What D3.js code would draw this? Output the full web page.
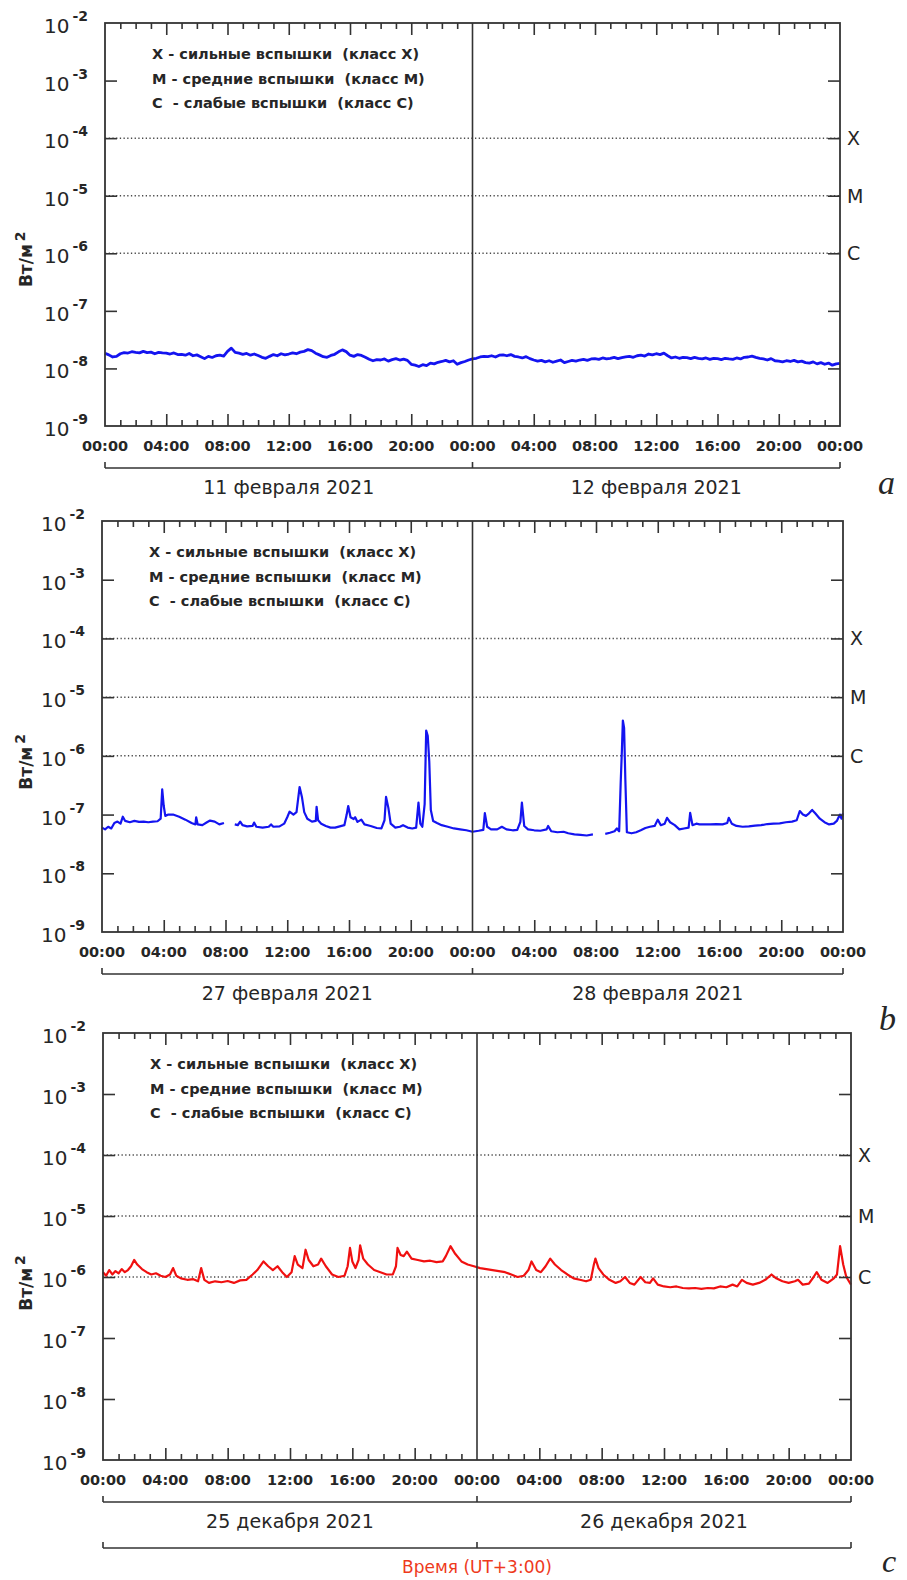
<!DOCTYPE html>
<html>
<head>
<meta charset="utf-8">
<script src="https://cdn.jsdelivr.net/npm/d3@7"></script>
<style>
  body { margin: 0; background: #fff; }
  svg text { font-family: "DejaVu Sans", Verdana, sans-serif; fill: #262626; }
</style>
</head>
<body>
<svg id="chart" width="907" height="1580"></svg>
<script>
// ---- shared axis content ----
const decades = [1e-9, 1e-8, 1e-7, 1e-6, 1e-5, 1e-4, 1e-3, 1e-2];
const classLevels = [1e-4, 1e-5, 1e-6];
const classNames = ["X", "M", "C"];
const hourLabels = [0, 4, 8, 12, 16, 20, 24, 28, 32, 36, 40, 44, 48];
const legendLines = [
  "X - сильные вспышки  (класс X)",
  "M - средние вспышки  (класс M)",
  "C  - слабые вспышки  (класс C)"
];

// ---- panel a: 11–12 Feb 2021, sampled every 15 min, units of 1e-8 W/m² ----
const stepA = 0.25;
const unitA = 1e-8;
const fluxA = [
  1.84, 1.72, 1.58, 1.62,  1.80, 1.88, 1.85, 1.95,  1.90, 1.86, 1.98, 1.88,
  1.92, 1.80, 1.90, 1.86,  1.84, 1.78, 1.86, 1.74,  1.76, 1.70, 1.82, 1.66,
  1.72, 1.60, 1.48, 1.62,  1.55, 1.66, 1.70, 1.64,  1.98, 2.25, 1.90, 1.84,
  1.76, 1.82, 1.70, 1.78,  1.68, 1.56, 1.50, 1.62,  1.74, 1.66, 1.80, 1.72,
  1.78, 1.86, 1.80, 1.92,  1.98, 2.12, 2.04, 1.84,  1.72, 1.60, 1.56, 1.68,
  1.76, 1.94, 2.10, 1.96,  1.70, 1.62, 1.74, 1.68,  1.56, 1.44, 1.36, 1.42,
  1.40, 1.46, 1.34, 1.42,  1.48, 1.40, 1.45, 1.38,  1.18, 1.14, 1.08, 1.16,
  1.12, 1.24, 1.20, 1.28,  1.32, 1.38, 1.30, 1.36,  1.18, 1.26, 1.32, 1.40,
  1.46, 1.50, 1.58, 1.62,  1.60, 1.66, 1.58, 1.70,  1.72, 1.66, 1.74, 1.62,
  1.58, 1.52, 1.60, 1.48,  1.40, 1.34, 1.38, 1.30,  1.36, 1.28, 1.34, 1.40,
  1.26, 1.32, 1.38, 1.34,  1.40, 1.44, 1.38, 1.46,  1.48, 1.44, 1.52, 1.46,
  1.50, 1.56, 1.48, 1.54,  1.58, 1.62, 1.56, 1.66,  1.70, 1.64, 1.78, 1.72,
  1.80, 1.74, 1.84, 1.66,  1.52, 1.58, 1.50, 1.56,  1.54, 1.48, 1.56, 1.50,
  1.46, 1.52, 1.44, 1.50,  1.48, 1.42, 1.50, 1.46,  1.44, 1.52, 1.46, 1.56,
  1.58, 1.64, 1.56, 1.50,  1.46, 1.40, 1.48, 1.36,  1.34, 1.30, 1.36, 1.32,
  1.38, 1.30, 1.34, 1.26,  1.24, 1.30, 1.20, 1.26,  1.18, 1.24, 1.14, 1.20,
  1.22
];

// ---- panel b: 27–28 Feb 2021 (hours from start, W/m², null = data gap) ----
const hoursB = [
  0, 0.2, 0.4, 0.6, 0.8, 1.0, 1.2, 1.35, 1.5, 1.8, 2.1, 2.4, 2.7, 3.0, 3.3, 3.6, 3.8, 3.9, 4.0, 4.1,
  4.3, 4.6, 5.0, 5.4, 5.8, 6.05, 6.1, 6.2, 6.5, 6.8, 7.0, 7.3, 7.6, 7.9, 8.2,
  8.6, 8.8, 8.95, 9.1, 9.4, 9.75, 9.85, 10.0, 10.4, 10.8, 10.95, 11.1, 11.5, 11.8, 12.0,
  12.15, 12.4, 12.6, 12.8, 12.95, 13.1, 13.3, 13.6, 13.85, 13.9, 14.0, 14.2, 14.5, 14.8, 15.1,
  15.4, 15.7, 15.85, 15.95, 16.1, 16.3, 16.4, 16.55, 16.8, 17.0, 17.4, 17.8, 18.1, 18.3, 18.4,
  18.55, 18.7, 19.0, 19.3, 19.5, 19.8, 20.1, 20.35, 20.5, 20.62, 20.75, 20.9, 21.0, 21.1, 21.2,
  21.3, 21.45, 21.7, 22.0, 22.4, 22.8, 23.2, 23.6, 24.0, 24.4, 24.7, 24.8, 24.95, 25.2, 25.6,
  25.9, 26.2, 26.6, 26.9, 27.1, 27.2, 27.35, 27.6, 28.0, 28.4, 28.8, 28.9, 29.1, 29.5, 29.9,
  30.2, 30.6, 31.0, 31.4, 31.8, 32.2,
  32.6, 32.9, 33.2, 33.35, 33.5, 33.6, 33.68, 33.74, 33.82, 33.9, 34.0, 34.3, 34.6, 34.9, 35.2,
  35.5, 35.8, 36.0, 36.2, 36.45, 36.6, 36.8, 37.1, 37.4, 37.7, 38.0, 38.1, 38.25, 38.5, 38.7,
  39.0, 39.4, 39.8, 40.2, 40.5, 40.6, 40.8, 41.1, 41.5, 41.9, 42.3, 42.7, 43.1, 43.5, 43.9,
  44.3, 44.7, 45.0, 45.2, 45.4, 45.6, 45.8, 46.0, 46.2, 46.5, 46.8, 47.1, 47.4, 47.6, 47.8,
  47.9, 48.0
];
const fluxB = [
  6.0e-8, 5.6e-8, 6.2e-8, 5.8e-8, 7.2e-8, 7.6e-8, 7.0e-8, 9.2e-8, 7.8e-8, 7.4e-8, 7.8e-8, 7.5e-8, 7.6e-8, 7.4e-8, 7.6e-8, 7.7e-8, 8.5e-8, 2.7e-7, 1.4e-7, 9.5e-8,
  1.0e-7, 1.0e-7, 9.2e-8, 8.2e-8, 7.2e-8, 6.8e-8, 9.0e-8, 6.8e-8, 6.6e-8, 7.4e-8, 7.9e-8, 7.6e-8, 6.8e-8, 7.2e-8, null,
  6.8e-8, 6.6e-8, 7.6e-8, 6.6e-8, 6.3e-8, 6.4e-8, 7.3e-8, 6.2e-8, 6.0e-8, 6.2e-8, 6.8e-8, 6.2e-8, 6.3e-8, 7.0e-8, 9.0e-8,
  1.12e-7, 1.0e-7, 1.1e-7, 2.95e-7, 2.0e-7, 1.1e-7, 8.5e-8, 7.6e-8, 7.8e-8, 1.36e-7, 8.0e-8, 7.0e-8, 6.4e-8, 6.0e-8, 6.0e-8,
  6.3e-8, 6.6e-8, 1.0e-7, 1.4e-7, 9.0e-8, 8.4e-8, 9.0e-8, 7.5e-8, 8.2e-8, 6.8e-8, 6.4e-8, 5.9e-8, 5.8e-8, 8.0e-8, 2.0e-7,
  1.3e-7, 7.0e-8, 6.0e-8, 6.2e-8, 6.6e-8, 6.0e-8, 5.8e-8, 6.0e-8, 1.6e-7, 7.0e-8, 6.2e-8, 1.5e-7, 2.7e-6, 2.2e-6, 8.0e-7,
  1.2e-7, 7.8e-8, 7.2e-8, 6.6e-8, 6.2e-8, 5.8e-8, 5.6e-8, 5.4e-8, 5.1e-8, 5.3e-8, 5.5e-8, 1.06e-7, 6.2e-8, 5.6e-8, 5.6e-8,
  6.2e-8, 5.6e-8, 5.4e-8, 5.5e-8, 7.5e-8, 1.6e-7, 6.4e-8, 5.6e-8, 5.4e-8, 5.3e-8, 5.6e-8, 6.4e-8, 5.2e-8, 5.0e-8, 5.1e-8,
  4.8e-8, 4.6e-8, 4.5e-8, 4.4e-8, 4.6e-8, null,
  4.7e-8, 4.9e-8, 5.2e-8, 5.8e-8, 5.2e-8, 3.5e-7, 1.3e-6, 4.0e-6, 3.0e-6, 4.0e-7, 5.0e-8, 4.8e-8, 5.0e-8, 5.4e-8, 5.9e-8,
  6.2e-8, 6.4e-8, 8.2e-8, 6.6e-8, 7.0e-8, 8.8e-8, 7.4e-8, 6.6e-8, 5.6e-8, 5.8e-8, 6.0e-8, 1.07e-7, 6.6e-8, 7.0e-8, 6.8e-8,
  6.8e-8, 6.8e-8, 6.9e-8, 6.8e-8, 7.2e-8, 8.8e-8, 7.0e-8, 6.4e-8, 6.2e-8, 6.3e-8, 6.5e-8, 6.6e-8, 6.9e-8, 7.0e-8, 7.1e-8,
  7.4e-8, 7.6e-8, 8.0e-8, 1.15e-7, 1.0e-7, 9.5e-8, 1.05e-7, 1.2e-7, 1.05e-7, 8.5e-8, 7.4e-8, 6.8e-8, 7.0e-8, 7.8e-8, 1.0e-7,
  8.5e-8, 1.05e-7
];

// ---- panel c: 25–26 Dec 2021 (hours from start, W/m²) ----
const hoursC = [
  0.0, 0.2, 0.4, 0.6, 0.8, 1.0, 1.2, 1.4, 1.6, 1.8, 2.0, 2.2, 2.5, 2.8, 3.1, 3.4, 3.7, 4.0, 4.3, 4.5,
  4.7, 5.0, 5.4, 5.8, 6.1, 6.3, 6.5, 6.8, 7.2, 7.6, 8.0, 8.4, 8.8, 9.2, 9.6, 9.9, 10.3, 10.6, 10.9, 11.2,
  11.5, 11.8, 12.1, 12.3, 12.5, 12.8, 13.0, 13.2, 13.5, 13.8, 14.0, 14.3, 14.7, 15.1, 15.5, 15.7, 15.85, 16.0, 16.2, 16.4,
  16.5, 16.7, 17.0, 17.4, 17.8, 18.2, 18.6, 18.8, 18.9, 19.1, 19.3, 19.5, 19.8, 20.2, 20.6, 21.0, 21.4, 21.8, 22.0, 22.3,
  22.6, 23.0, 23.4, 23.8, 24.2, 24.6, 25.0, 25.4, 25.8, 26.2, 26.6, 27.0, 27.3, 27.5, 27.8, 28.1, 28.4, 28.7, 29.0, 29.4,
  29.8, 30.2, 30.6, 31.0, 31.3, 31.5, 31.6, 31.8, 32.1, 32.5, 32.9, 33.2, 33.5, 33.8, 34.1, 34.5, 34.8, 35.1, 35.3, 35.6,
  36.0, 36.4, 36.8, 37.2, 37.6, 38.0, 38.4, 38.8, 39.2, 39.6, 40.0, 40.4, 40.7, 41.0, 41.3, 41.7, 42.1, 42.5, 42.9, 43.2,
  43.6, 44.0, 44.4, 44.6, 44.9, 45.3, 45.6, 45.8, 46.1, 46.5, 46.9, 47.1, 47.3, 47.5, 47.7, 48.0
];
const fluxC = [
  1.2e-6, 1.05e-6, 1.3e-6, 1.1e-6, 1.25e-6, 1.15e-6, 1.35e-6, 1.2e-6, 1.3e-6, 1.5e-6, 1.9e-6, 1.6e-6, 1.35e-6, 1.2e-6, 1.1e-6, 1.15e-6, 1.05e-6, 1.0e-6, 1.1e-6, 1.4e-6,
  1.05e-6, 9.5e-7, 9.0e-7, 9.2e-7, 8.5e-7, 1.4e-6, 9.0e-7, 8.0e-7, 8.5e-7, 8.2e-7, 8.6e-7, 8.0e-7, 8.8e-7, 9.0e-7, 1.1e-6, 1.3e-6, 1.8e-6, 1.5e-6, 1.3e-6, 1.5e-6,
  1.2e-6, 1.0e-6, 1.2e-6, 2.2e-6, 1.6e-6, 1.4e-6, 2.8e-6, 1.9e-6, 1.5e-6, 1.6e-6, 2.0e-6, 1.5e-6, 1.1e-6, 1.0e-6, 1.05e-6, 1.5e-6, 3.0e-6, 1.8e-6, 1.4e-6, 1.9e-6,
  3.3e-6, 2.0e-6, 1.6e-6, 1.3e-6, 1.2e-6, 1.1e-6, 1.1e-6, 1.5e-6, 3.0e-6, 2.3e-6, 2.2e-6, 2.6e-6, 2.0e-6, 1.9e-6, 1.8e-6, 1.85e-6, 1.75e-6, 1.8e-6, 2.2e-6, 3.2e-6,
  2.4e-6, 1.8e-6, 1.6e-6, 1.5e-6, 1.4e-6, 1.35e-6, 1.3e-6, 1.25e-6, 1.2e-6, 1.1e-6, 1.0e-6, 1.05e-6, 1.3e-6, 1.8e-6, 1.3e-6, 1.2e-6, 1.5e-6, 2.0e-6, 1.6e-6, 1.3e-6,
  1.1e-6, 9.5e-7, 9.0e-7, 8.5e-7, 9.0e-7, 1.6e-6, 2.0e-6, 1.4e-6, 1.1e-6, 9.0e-7, 8.0e-7, 8.5e-7, 1.0e-6, 8.0e-7, 7.5e-7, 1.0e-6, 8.2e-7, 8.0e-7, 9.5e-7, 7.5e-7,
  7.0e-7, 6.8e-7, 7.0e-7, 6.6e-7, 6.5e-7, 6.6e-7, 6.4e-7, 6.6e-7, 6.5e-7, 7.0e-7, 6.8e-7, 7.5e-7, 7.0e-7, 9.0e-7, 8.0e-7, 7.5e-7, 8.0e-7, 9.0e-7, 1.1e-6, 9.5e-7,
  8.5e-7, 8.0e-7, 8.5e-7, 9.0e-7, 7.5e-7, 7.8e-7, 1.0e-6, 1.2e-6, 9.0e-7, 8.0e-7, 9.5e-7, 1.1e-6, 3.2e-6, 1.6e-6, 1.0e-6, 7.5e-7
];

const datesA = ["11 февраля 2021", "12 февраля 2021"];
const datesB = ["27 февраля 2021", "28 февраля 2021"];
const datesC = ["25 декабря 2021", "26 декабря 2021"];
const timeTitle = "Время (UT+3:00)";

// ---- drawing ----
const svg = d3.select("#chart");
const axisColor = "#333";

function seriesFrom(hours, flux) {
  return hours.map((t, i) => ({ t, v: flux[i] }));
}

function drawPanel(p) {
  const g = svg.append("g");
  const x = d3.scaleLinear().domain([0, 48]).range([p.left, p.right]);
  const y = d3.scaleLog().domain([1e-9, 1e-2]).range([p.bottom, p.top]);

  // class threshold grid (dotted)
  g.selectAll("line.grid").data(classLevels).join("line")
    .attr("x1", p.left).attr("x2", p.right)
    .attr("y1", d => y(d)).attr("y2", d => y(d))
    .attr("stroke", "#4a4a4a").attr("stroke-width", 1.5)
    .attr("stroke-dasharray", "1.3,2.4");

  // flux curve
  const line = d3.line().defined(d => d.v != null)
    .x(d => x(d.t)).y(d => y(d.v));
  g.append("path").datum(p.series)
    .attr("d", line).attr("fill", "none")
    .attr("stroke", p.color).attr("stroke-width", p.lineWidth)
    .attr("stroke-linejoin", "round");

  // hour ticks, top and bottom, pointing inward
  const minorHours = d3.range(1, 48).filter(h => h % 4 !== 0);
  const majorHours = d3.range(4, 48, 4).filter(h => h !== 24);
  const tickSets = [[minorHours, 6], [majorHours, 12]];
  tickSets.forEach(([vals, len]) => {
    g.append("g").attr("transform", `translate(0,${p.bottom})`)
      .call(d3.axisBottom(x).tickValues(vals).tickSize(-len).tickFormat(""))
      .call(a => a.select(".domain").remove());
    g.append("g").attr("transform", `translate(0,${p.top})`)
      .call(d3.axisTop(x).tickValues(vals).tickSize(-len).tickFormat(""))
      .call(a => a.select(".domain").remove());
  });

  // decade ticks left and right, pointing inward
  const inner = decades.slice(1, -1);
  g.append("g").attr("transform", `translate(${p.left},0)`)
    .call(d3.axisLeft(y).tickValues(inner).tickSize(-12).tickFormat(""))
    .call(a => a.select(".domain").remove());
  g.append("g").attr("transform", `translate(${p.right},0)`)
    .call(d3.axisRight(y).tickValues(inner).tickSize(-12).tickFormat(""))
    .call(a => a.select(".domain").remove());
  g.selectAll(".tick line").attr("stroke", axisColor).attr("stroke-width", 1.6);

  // frame and day divider
  g.append("rect")
    .attr("x", p.left).attr("y", p.top)
    .attr("width", p.right - p.left).attr("height", p.bottom - p.top)
    .attr("fill", "none").attr("stroke", axisColor).attr("stroke-width", 1.8);
  g.append("line")
    .attr("x1", x(24)).attr("x2", x(24)).attr("y1", p.top).attr("y2", p.bottom)
    .attr("stroke", axisColor).attr("stroke-width", 1.6);

  // decade labels 10^n
  const yl = g.selectAll("text.ylab").data(decades).join("text")
    .attr("class", "ylab")
    .attr("x", p.left - 61).attr("y", d => y(d) + 10)
    .attr("font-size", 20);
  yl.append("tspan").text("10");
  yl.append("tspan").attr("dy", -12).attr("dx", 3)
    .attr("font-size", 14).attr("font-weight", "bold")
    .text(d => "-" + Math.round(-Math.log10(d)));

  // class letters on the right
  g.selectAll("text.cls").data(classLevels).join("text")
    .attr("x", p.right + 7).attr("y", d => y(d) + 7)
    .attr("font-size", 19).text((d, i) => classNames[i]);

  // legend
  g.selectAll("text.leg").data(legendLines).join("text")
    .attr("x", p.left + 47).attr("y", (d, i) => p.top + 36 + i * 24.5)
    .attr("font-size", 14.5).attr("font-weight", "bold")
    .style("white-space", "pre").text(d => d);

  // unit label
  const ulab = g.append("text")
    .attr("transform", `translate(32,${y(1e-6) + 6}) rotate(-90)`)
    .attr("text-anchor", "middle").attr("font-size", 17).attr("font-weight", "bold");
  ulab.append("tspan").text("Вт/м");
  ulab.append("tspan").attr("dx", 3).attr("dy", -7).attr("font-size", 14).text("2");

  // hour labels
  g.selectAll("text.xlab").data(hourLabels).join("text")
    .attr("x", d => x(d)).attr("y", p.bottom + 25)
    .attr("text-anchor", "middle").attr("font-size", 14.5).attr("font-weight", "bold")
    .text(d => String(d % 24).padStart(2, "0") + ":00");

  // day brackets and dates
  const bracket = (by) => {
    g.append("line").attr("x1", p.left).attr("x2", p.right).attr("y1", by).attr("y2", by)
      .attr("stroke", axisColor).attr("stroke-width", 1.6);
    g.selectAll(null).data([0, 24, 48]).join("line")
      .attr("x1", d => x(d)).attr("x2", d => x(d))
      .attr("y1", by).attr("y2", by - 6)
      .attr("stroke", axisColor).attr("stroke-width", 1.6);
  };
  bracket(p.bottom + 42);
  g.selectAll("text.date").data(p.dates).join("text")
    .attr("x", (d, i) => x(12 + 24 * i)).attr("y", p.bottom + 68)
    .attr("text-anchor", "middle").attr("font-size", 19)
    .text(d => d);

  if (p.title) {
    bracket(p.bottom + 88);
    g.append("text").attr("x", x(24)).attr("y", p.bottom + 113)
      .attr("text-anchor", "middle").attr("font-size", 17)
      .style("fill", "#ee3a1c").text(p.title);
  }

  // panel letter
  g.append("text").attr("x", p.letterX).attr("y", p.letterY)
    .attr("font-style", "italic").attr("font-size", p.letterSize)
    .style("font-family", "'Liberation Serif', 'DejaVu Serif', serif")
    .text(p.letter);
}

drawPanel({
  left: 105, right: 840, top: 23, bottom: 426,
  series: fluxA.map((v, i) => ({ t: i * stepA, v: v * unitA })),
  color: "#1414f0", lineWidth: 2.8, dates: datesA,
  letter: "a", letterX: 878, letterY: 494, letterSize: 34
});
drawPanel({
  left: 102, right: 843, top: 521, bottom: 932,
  series: seriesFrom(hoursB, fluxB),
  color: "#1414f0", lineWidth: 2.2, dates: datesB,
  letter: "b", letterX: 879, letterY: 1030, letterSize: 34
});
drawPanel({
  left: 103, right: 851, top: 1033, bottom: 1460,
  series: seriesFrom(hoursC, fluxC),
  color: "#f01010", lineWidth: 2.2, dates: datesC, title: timeTitle,
  letter: "c", letterX: 882, letterY: 1572, letterSize: 32
});
</script>
</body>
</html>
